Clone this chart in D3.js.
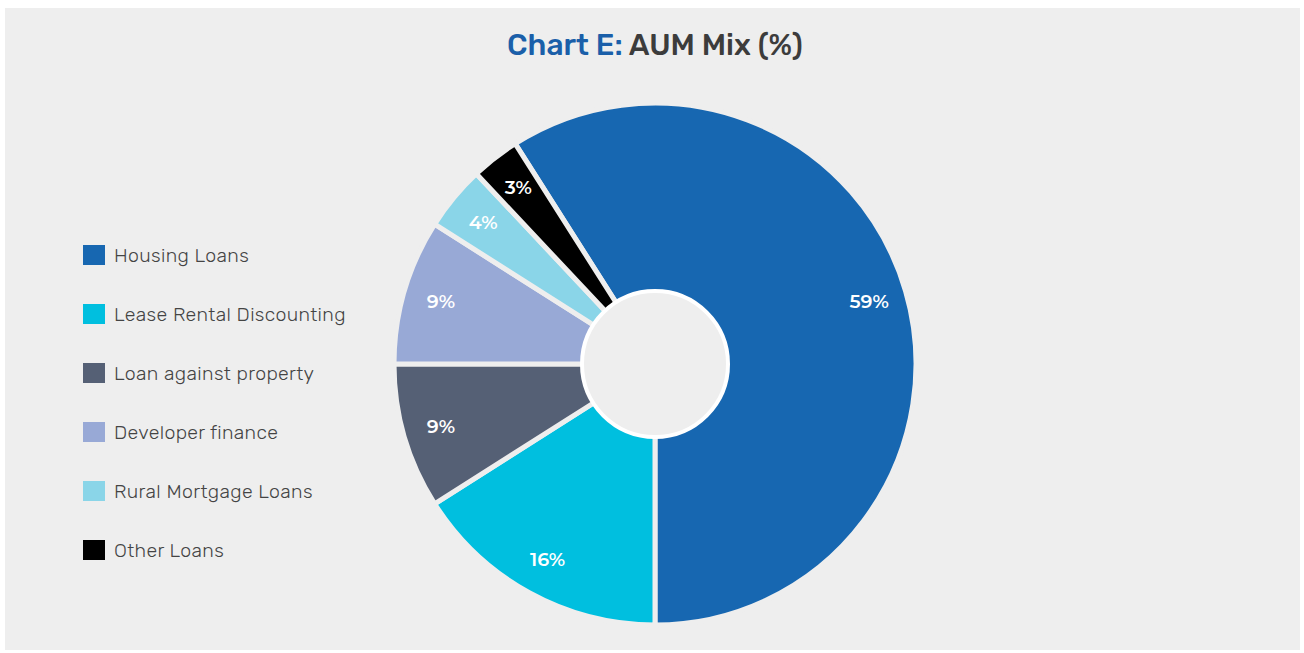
<!DOCTYPE html>
<html>
<head>
<meta charset="utf-8">
<script src="https://cdn.jsdelivr.net/npm/d3@7"></script>
<style>
  body { margin: 0; background: #fff; }
  svg { display: block; }
</style>
</head>
<body>
<div id="container"></div>
<script>
// AUM mix data
var categories = ["Housing Loans", "Lease Rental Discounting", "Loan against property",
                  "Developer finance", "Rural Mortgage Loans", "Other Loans"];
var values = [59, 16, 9, 9, 4, 3];
var colors = ["#1767b1", "#00bfdf", "#556075", "#98a9d6", "#8ad5e8", "#000000"];

var width = 1304, height = 653;
var cx = 655, cy = 364;
var outerR = 261, innerR = 73;

var svg = d3.select("#container").append("svg")
    .attr("width", width)
    .attr("height", height);

// panel
svg.append("rect")
    .attr("x", 5).attr("y", 8)
    .attr("width", 1295).attr("height", 642)
    .attr("fill", "#eeeeee");

// title
var title = svg.append("text")
    .attr("x", 655).attr("y", 55)
    .attr("text-anchor", "middle")
    .style("font-family", "Rubik, 'Noto Sans', sans-serif")
    .style("font-size", "30px")
    .style("font-weight", "500");
title.append("tspan").attr("fill", "#1a5fa9").text("Chart E: ");
title.append("tspan").attr("fill", "#3c3c3c").text("AUM Mix (%)");

var data = categories.map(function(c, i) { return {name: c, value: values[i], color: colors[i]}; });

// housing ends at the bottom (180deg), rest goes clockwise
var start = Math.PI - 2 * Math.PI * values[0] / d3.sum(values);
var pie = d3.pie()
    .sort(null)
    .value(function(d) { return d.value; })
    .startAngle(start)
    .endAngle(start + 2 * Math.PI);

var arc = d3.arc().innerRadius(0).outerRadius(outerR);
var labelArc = d3.arc().innerRadius(184).outerRadius(262);

var g = svg.append("g").attr("transform", "translate(" + cx + "," + cy + ")");

g.selectAll(".slice")
    .data(pie(data))
    .enter().append("path")
    .attr("class", "slice")
    .attr("d", arc)
    .attr("fill", function(d) { return d.data.color; })
    .attr("stroke", "#eeeeee")
    .attr("stroke-width", 5)
    .attr("stroke-linejoin", "round");

g.append("circle")
    .attr("r", innerR)
    .attr("fill", "#eeeeee")
    .attr("stroke", "#ffffff")
    .attr("stroke-width", 4);

g.selectAll(".lbl")
    .data(pie(data))
    .enter().append("text")
    .attr("class", "lbl")
    .attr("transform", function(d) { return "translate(" + labelArc.centroid(d) + ")"; })
    .attr("text-anchor", "middle")
    .attr("dy", "0.35em")
    .attr("fill", "#ffffff")
    .style("font-family", "Montserrat, 'Open Sans', sans-serif")
    .style("font-size", "19px")
    .style("font-weight", "600")
    .text(function(d) { return d.data.value + "%"; });

// legend
var legend = svg.append("g").attr("transform", "translate(83,245)");
var item = legend.selectAll(".item")
    .data(data)
    .enter().append("g")
    .attr("class", "item")
    .attr("transform", function(d, i) { return "translate(0," + (i * 59) + ")"; });

item.append("rect")
    .attr("width", 22).attr("height", 20)
    .attr("fill", function(d) { return d.color; });

item.append("text")
    .attr("x", 31).attr("y", 17)
    .attr("fill", "#444444")
    .style("font-family", "Rubik, 'Noto Sans', sans-serif")
    .style("font-size", "19.5px")
    .style("font-weight", "300")
    .style("letter-spacing", "0.35px")
    .text(function(d) { return d.name; });
</script>
</body>
</html>
